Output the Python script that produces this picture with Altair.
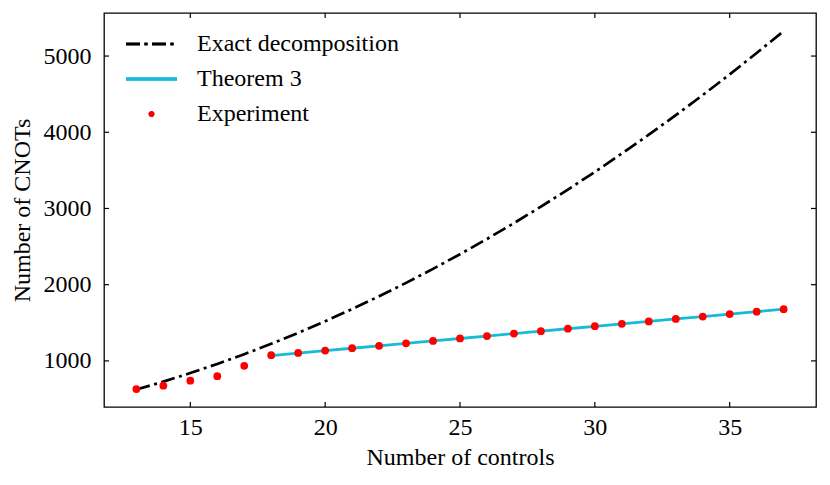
import altair as alt
import pandas as pd

# ---- data ----
controls = list(range(13, 38))
exact = [624, 728, 840, 960, 1088, 1224, 1368, 1520, 1680, 1848, 2024, 2208,
         2400, 2600, 2808, 3024, 3248, 3480, 3720, 3968, 4224, 4488, 4760, 5040, 5328]
thm_controls = list(range(18, 38))
theorem3 = [1070, 1102, 1134, 1166, 1198, 1230, 1262, 1294, 1326, 1358,
            1390, 1422, 1454, 1486, 1518, 1550, 1582, 1614, 1646, 1678]
experiment = [630, 675, 740, 800, 935, 1075, 1104, 1136, 1166, 1198, 1230, 1262,
              1294, 1326, 1358, 1390, 1422, 1456, 1486, 1518, 1550, 1582, 1614, 1646, 1679]
x_ticks = [15, 20, 25, 30, 35]
y_ticks = [1000, 2000, 3000, 4000, 5000]
legend_labels = ["Exact decomposition", "Theorem 3", "Experiment"]

W, H = 712, 394
FONT = "Liberation Serif"
FS = 24
CYAN = "#17BBD6"

xs = alt.Scale(domain=[11.8, 38.2], nice=False, zero=False)
ys = alt.Scale(domain=[395, 5565], nice=False, zero=False)
xaxis = alt.Axis(values=x_ticks, title="Number of controls", ticks=False, domain=False,
                 grid=False, labelPadding=8, titlePadding=6, format="d")
yaxis = alt.Axis(values=y_ticks, title="Number of CNOTs", ticks=False, domain=False,
                 grid=False, labelPadding=13, titlePadding=9, format="d")


def X():
    return alt.X("n:Q", scale=xs, axis=xaxis, title="Number of controls")


def Y():
    return alt.Y("v:Q", scale=ys, axis=yaxis, title="Number of CNOTs")


df_exact = pd.DataFrame({"n": controls, "v": exact})
df_thm = pd.DataFrame({"n": thm_controls, "v": theorem3})
df_exp = pd.DataFrame({"n": controls, "v": experiment})
df_xt = pd.DataFrame({"n": x_ticks})
df_yt = pd.DataFrame({"v": y_ticks})

DASH = [14, 4.5, 3, 4.5]
LW = 2.7

exact_line = alt.Chart(df_exact).mark_line(color="black", strokeWidth=LW, strokeDash=DASH).encode(x=X(), y=Y())
thm_line = alt.Chart(df_thm).mark_line(color=CYAN, strokeWidth=2.8).encode(x=X(), y=Y())
exp_pts = alt.Chart(df_exp).mark_circle(color="#ff0000", opacity=1, size=60).encode(x=X(), y=Y())

TL = 5
tick_style = dict(color="black", strokeWidth=1.2)
bt = alt.Chart(df_xt).mark_rule(**tick_style).encode(x=X(), y=alt.value(H), y2=alt.value(H - TL))
tt = alt.Chart(df_xt).mark_rule(**tick_style).encode(x=X(), y=alt.value(0), y2=alt.value(TL))
lt = alt.Chart(df_yt).mark_rule(**tick_style).encode(y=Y(), x=alt.value(0), x2=alt.value(TL))
rt = alt.Chart(df_yt).mark_rule(**tick_style).encode(y=Y(), x=alt.value(W), x2=alt.value(W - TL))

# ---- legend ----
ROWS = [31, 66, 101]
df_leg = pd.DataFrame({"label": legend_labels})
leg1 = alt.Chart(df_leg).mark_rule(color="black", strokeWidth=LW, strokeDash=DASH).encode(
    x=alt.value(22), x2=alt.value(73), y=alt.value(ROWS[0]))
leg2 = alt.Chart(df_leg).mark_rule(color=CYAN, strokeWidth=2.8).encode(
    x=alt.value(22), x2=alt.value(73), y=alt.value(ROWS[1]))
leg3 = alt.Chart(df_leg).mark_circle(color="#ff0000", opacity=1, size=32).encode(
    x=alt.value(47.5), y=alt.value(ROWS[2]))
leg_texts = [
    alt.Chart(pd.DataFrame({"label": [lab]})).mark_text(
        align="left", baseline="middle", font=FONT, fontSize=FS, color="black").encode(
        x=alt.value(93), y=alt.value(r), text="label:N")
    for lab, r in zip(legend_labels, ROWS)
]

chart = alt.layer(
    exact_line, thm_line, exp_pts, bt, tt, lt, rt, leg1, leg2, leg3, *leg_texts
).properties(
    width=W, height=H,
    autosize=alt.AutoSizeParams(type="none"),
    padding={"left": 96, "top": 5, "right": 6, "bottom": 74},
    background="white",
).configure_view(
    stroke="black", strokeWidth=1.3
).configure_axis(
    labelFont=FONT, titleFont=FONT, labelFontSize=FS, titleFontSize=FS,
    labelColor="black", titleColor="black", titleFontWeight="normal",
)

chart.save("out.html", embed_options={"renderer": "svg", "actions": False})
